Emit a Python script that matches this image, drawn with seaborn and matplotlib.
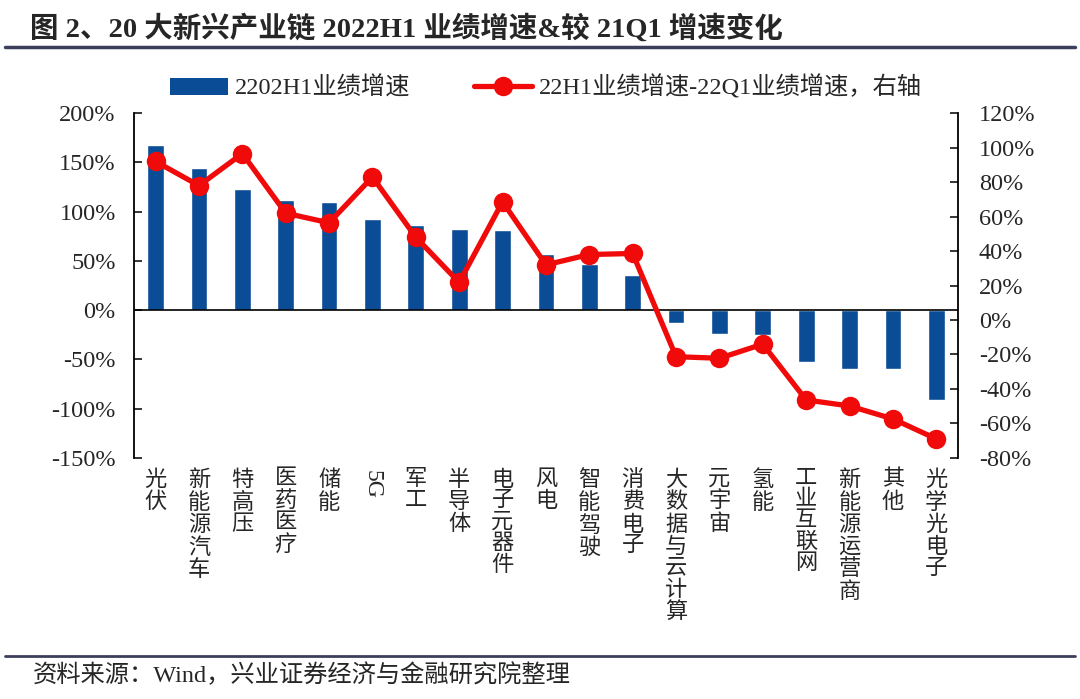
import numpy as np
import pandas as pd
import matplotlib
matplotlib.use("Agg")
import matplotlib.pyplot as plt
import seaborn as sns
from matplotlib.patches import Patch
from matplotlib.lines import Line2D
from matplotlib.ticker import FuncFormatter

sns.set_style("white")
plt.rcParams['font.family'] = ['Liberation Serif', 'Noto Sans CJK SC', 'DejaVu Sans']
plt.rcParams['axes.unicode_minus'] = False

# data
industries = ["光伏", "新能源汽车", "特高压", "医药医疗", "储能", "5G", "军工", "半导体",
              "电子元器件", "风电", "智能驾驶", "消费电子", "大数据与云计算", "元宇宙",
              "氢能", "工业互联网", "新能源运营商", "其他", "光学光电子"]
h1_growth = [168, 144, 123, 112, 110, 93, 86, 82, 81, 57, 47, 35.5, -13.5, -24.7,
             -25.7, -52.8, -60, -60, -91]
h1_minus_q1 = [92, 78, 96.6, 62, 56.4, 83, 48, 21.8, 68.6, 32, 38, 38.6, -21.3,
               -22.2, -14, -46.4, -49.9, -57.4, -69]

bar_label = "2202H1业绩增速"
line_label = "22H1业绩增速-22Q1业绩增速，右轴"
bar_color = "#0a4d96"
line_color = "#f00a0a"

df = pd.DataFrame({"industry": industries, "h1": h1_growth, "diff": h1_minus_q1})
pos = np.arange(len(industries))

fig = plt.figure(figsize=(10.8, 6.99), dpi=100)
ax = fig.add_axes([0.124, 0.345, 0.763, 0.493])

sns.barplot(data=df, x="industry", y="h1", color=bar_color, width=0.385,
            saturation=1, ax=ax)
ax.axhline(0, color="black", lw=1.2, zorder=1)

ax2 = ax.twinx()
sns.lineplot(x=pos, y=df["diff"], ax=ax2, color=line_color, linewidth=3.8,
             marker="o", markersize=14, markeredgewidth=0)

ax.set_xlim(-0.5, len(industries) - 0.5)
ax.set_ylim(-150, 200)
ax.set_yticks(np.arange(-150, 201, 50))
ax2.set_ylim(-80, 120)
ax2.set_yticks(np.arange(-80, 121, 20))
pct = FuncFormatter(lambda v, p: f"{v:.0f}%")
ax.yaxis.set_major_formatter(pct)
ax2.yaxis.set_major_formatter(pct)

ax.set_xlabel("")
ax.set_ylabel("")
ax2.set_xlabel("")
ax2.set_ylabel("")

for a in (ax, ax2):
    for s in ("top", "bottom"):
        a.spines[s].set_visible(False)
    a.spines["left"].set_color("black")
    a.spines["right"].set_color("black")
    a.spines["left"].set_linewidth(1.3)
    a.spines["right"].set_linewidth(1.3)
ax.spines["right"].set_visible(False)
ax2.spines["left"].set_visible(False)

ax.tick_params(axis="y", direction="in", length=6, width=1.3, pad=13, labelsize=17.5)
ax2.tick_params(axis="y", direction="in", length=6, width=1.3, pad=15, labelsize=17.5)
ax.tick_params(axis="x", length=0, pad=9)

ax.set_xticks(pos)
ax.set_xticklabels(["\n".join(c) if c != "5G" else c for c in industries],
                   fontsize=16, va="top", linespacing=1.12)
for lab in ax.get_xticklabels():
    if lab.get_text() == "5G":
        lab.set_rotation(-90)
        lab.set_fontsize(17)

handles = [Patch(facecolor=bar_color, edgecolor="none"),
           Line2D([0], [0], color=line_color, lw=3.8, marker="o", markersize=14,
                  markeredgewidth=0)]
ax.legend(handles, [bar_label, line_label], loc="lower center",
          bbox_to_anchor=(0.5, 0.975), ncol=2, frameon=False, fontsize=17.5,
          columnspacing=2.6, handlelength=2.4, handletextpad=0.3)

# title, rules and source note
fig.text(0.028, 0.96, "图 2、20 大新兴产业链 2022H1 业绩增速&较 21Q1 增速变化",
         fontsize=20.5, fontweight="bold", va="center", ha="left")
fig.add_artist(Line2D([0.005, 0.995], [0.933, 0.933], color="#3b3f5a", lw=2.5))
fig.add_artist(Line2D([0.005, 0.995], [0.062, 0.062], color="#3b3f5a", lw=2))
fig.text(0.03, 0.034, "资料来源：Wind，兴业证券经济与金融研究院整理",
         fontsize=17.5, va="center", ha="left")

fig.savefig("out.png", dpi=100)
